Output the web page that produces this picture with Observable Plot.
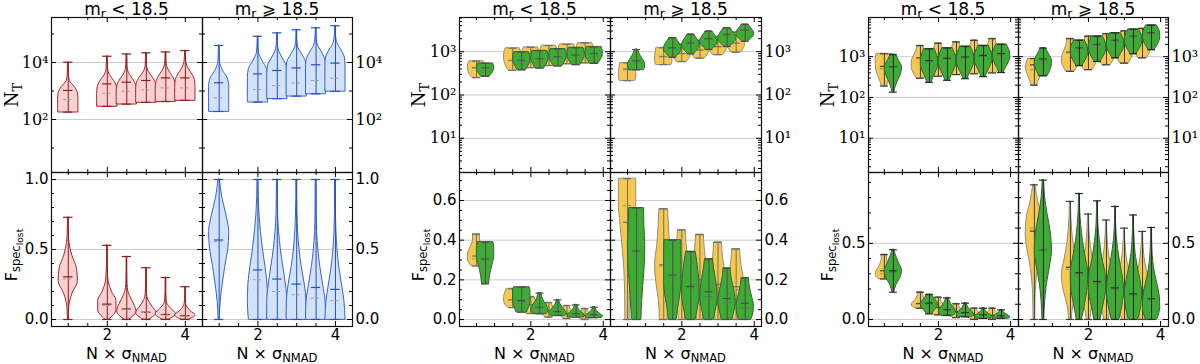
<!DOCTYPE html>
<html><head><meta charset="utf-8">
<script src="https://cdn.jsdelivr.net/npm/d3@7"></script>
<script src="https://cdn.jsdelivr.net/npm/@observablehq/plot@0.6"></script>
<style>
html,body{margin:0;padding:0;background:#fff;}
#root{position:relative;width:1200px;height:364px;overflow:hidden;font-family:"DejaVu Sans",sans-serif;}
.p{position:absolute;}
.p svg{max-width:none !important;}
.t{position:absolute;font-size:16px;white-space:nowrap;color:#000;transform:translate(-50%,-50%);line-height:1;}
.title{font-size:17px;}
.rot{transform:translate(-50%,-50%) rotate(-90deg);}
.serif{font-family:"DejaVu Serif",serif;font-size:18px;}
sub{font-size:72%;vertical-align:-0.3em;line-height:0;}
sub sub{font-size:80%;}
</style></head><body>
<div id="root"></div>
<script>
// ---------- tick labels / positions ----------
const xTickLabels = [2, 4];
const g1LogTicks = [1e2, 1e4];
const g23LogTicks = [1e1, 1e2, 1e3];
const g1LinTicks = [0, 0.5, 1.0];
const g2LinTicks = [0, 0.2, 0.4, 0.6];
const g3LinTicks = [0, 0.5];

// ---------- data: [position, min, max, mean, median, body widths (bottom->top)] ----------
// Group 1 (log10 N_T)
const g1TopRed = [
  [1, 2.26, 4.01, 3.02, 2.70, [1,1,1,0.95,0.65,0.15,0.06,0.04,0.02]],
  [2, 2.46, 4.22, 3.25, 2.92, [1,1,1,0.95,0.7,0.25,0.07,0.04,0.02]],
  [2.5, 2.54, 4.30, 3.31, 2.99, [1,1,1,0.92,0.6,0.2,0.06,0.04,0.02]],
  [3, 2.60, 4.34, 3.37, 3.04, [1,1,1,0.95,0.65,0.22,0.06,0.04,0.02]],
  [3.5, 2.63, 4.37, 3.46, 3.11, [1,1,1,0.95,0.7,0.3,0.08,0.04,0.02]],
  [4, 2.67, 4.42, 3.46, 3.11, [1,1,1,0.97,0.75,0.35,0.1,0.04,0.02]]
];
const g1TopBlue = [
  [1, 2.28, 4.60, 3.29, 2.76, [1,1,1,1,0.85,0.35,0.08,0.04,0.02]],
  [2, 2.61, 4.92, 3.60, 3.05, [1,1,1,1,0.9,0.45,0.1,0.04,0.02]],
  [2.5, 2.73, 5.04, 3.72, 3.19, [1,1,1,1,0.92,0.5,0.12,0.04,0.02]],
  [3, 2.82, 5.15, 3.81, 3.28, [1,1,1,1,0.95,0.55,0.12,0.04,0.02]],
  [3.5, 2.90, 5.22, 3.92, 3.37, [1,1,1,1,0.95,0.6,0.15,0.05,0.02]],
  [4, 2.99, 5.29, 3.98, 3.45, [1,1,1,1,0.95,0.6,0.15,0.05,0.02]]
];
// Group 1 (F_spec_lost)
const g1BotRed = [
  [1, 0, 0.73, 0.305, 0.29, [0.03,0.1,0.4,0.95,0.85,0.4,0.12,0.05,0.02]],
  [2, 0, 0.53, 0.11, 0.10, [0.2,0.9,0.9,0.45,0.15,0.06,0.03,0.02,0.02]],
  [2.5, 0, 0.45, 0.075, 0.07, [0.25,0.95,0.7,0.3,0.08,0.04,0.02,0.02,0.02]],
  [3, 0, 0.37, 0.052, 0.05, [0.3,1,0.6,0.2,0.06,0.03,0.02,0.02,0.02]],
  [3.5, 0, 0.30, 0.036, 0.033, [0.35,1,0.55,0.15,0.05,0.03,0.02,0.02,0.02]],
  [4, 0, 0.234, 0.027, 0.025, [0.4,1,0.55,0.2,0.06,0.03,0.02,0.02,0.02]]
];
const g1BotBlue = [
  [1, 0, 1.0, 0.568, 0.557, [0.05,0.15,0.35,0.6,0.9,1.0,0.7,0.3,0.08]],
  [2, 0, 1.0, 0.354, 0.284, [0.9,1,0.95,0.75,0.5,0.3,0.15,0.07,0.04]],
  [2.5, 0, 1.0, 0.289, 0.20, [1,1,0.85,0.6,0.35,0.18,0.08,0.05,0.04]],
  [3, 0, 1.0, 0.253, 0.177, [1,0.98,0.8,0.5,0.28,0.14,0.07,0.04,0.04]],
  [3.5, 0, 1.0, 0.229, 0.153, [1,0.95,0.7,0.42,0.22,0.1,0.06,0.04,0.04]],
  [4, 0, 1.0, 0.215, 0.134, [1,0.9,0.65,0.38,0.2,0.1,0.05,0.04,0.04]]
];
// Group 2 (log10 N_T)
const g2TopLeftYellow = [
  [0.5, 2.40, 2.78, 2.63, 2.62, [0.5,0.75,0.9,1,1,0.95,0.8]],
  [1.5, 2.57, 3.08, 2.80, 2.79, [0.5,0.75,0.9,1,1,0.95,0.8]],
  [2, 2.63, 3.10, 2.86, 2.85, [0.5,0.75,0.9,1,1,0.95,0.8]],
  [2.5, 2.68, 3.14, 2.90, 2.89, [0.5,0.75,0.9,1,1,0.95,0.8]],
  [3, 2.72, 3.17, 2.94, 2.93, [0.5,0.75,0.9,1,1,0.95,0.8]],
  [3.5, 2.74, 3.20, 2.97, 2.96, [0.5,0.75,0.9,1,1,0.95,0.8]]
];
const g2TopLeftGreen = [
  [0.75, 2.43, 2.73, 2.63, 2.62, [0.5,0.7,0.88,0.98,1,0.95,0.85]],
  [1.75, 2.58, 2.99, 2.80, 2.79, [0.5,0.7,0.88,0.98,1,0.95,0.85]],
  [2.25, 2.62, 3.02, 2.84, 2.83, [0.5,0.7,0.88,0.98,1,0.95,0.85]],
  [2.75, 2.67, 3.06, 2.88, 2.87, [0.5,0.7,0.88,0.98,1,0.95,0.85]],
  [3.25, 2.70, 3.09, 2.92, 2.91, [0.5,0.7,0.88,0.98,1,0.95,0.85]],
  [3.75, 2.73, 3.11, 2.96, 2.95, [0.5,0.7,0.88,0.98,1,0.95,0.85]]
];
const g2TopRightYellow = [
  [0.5, 2.33, 2.74, 2.60, 2.58, [0.9,1,1,1,0.95,0.9,0.85]],
  [1.5, 2.70, 3.09, 2.89, 2.88, [0.9,1,1,1,0.95,0.9,0.85]],
  [2, 2.77, 3.17, 2.96, 2.95, [0.6,0.85,1,1,0.95,0.85,0.7]],
  [2.5, 2.85, 3.26, 3.04, 3.03, [0.6,0.85,1,1,0.95,0.85,0.7]],
  [3, 2.93, 3.35, 3.12, 3.11, [0.6,0.85,1,1,0.95,0.85,0.7]],
  [3.5, 2.99, 3.45, 3.20, 3.19, [0.6,0.85,1,1,0.95,0.85,0.7]]
];
const g2TopRightGreen = [
  [0.75, 2.58, 3.05, 2.79, 2.78, [0.85,1,0.95,0.75,0.5,0.3,0.15]],
  [1.75, 2.87, 3.32, 3.09, 3.08, [0.35,0.7,1,1,0.85,0.6,0.35]],
  [2.25, 2.95, 3.40, 3.20, 3.19, [0.35,0.7,1,1,0.85,0.6,0.35]],
  [2.75, 3.05, 3.47, 3.30, 3.29, [0.35,0.7,1,1,0.85,0.6,0.35]],
  [3.25, 3.12, 3.55, 3.40, 3.39, [0.35,0.7,1,1,0.85,0.6,0.35]],
  [3.75, 3.24, 3.63, 3.50, 3.49, [0.35,0.7,1,1,0.85,0.6,0.35]]
];
// Group 2 (F_spec_lost)
const g2BotLeftYellow = [
  [0.5, 0.27, 0.43, 0.32, 0.305, [0.6,0.95,1,0.85,0.55,0.4,0.4]],
  [1.5, 0.06, 0.155, 0.10, 0.098, [0.55,0.85,1,1,0.95,0.85,0.7]],
  [2, 0.03, 0.115, 0.075, 0.07, [0.5,0.8,1,0.9,0.7,0.5,0.4]],
  [2.5, 0.012, 0.085, 0.045, 0.042, [0.4,0.75,1,0.85,0.6,0.4,0.3]],
  [3, 0.005, 0.07, 0.03, 0.028, [0.3,0.7,1,0.8,0.55,0.35,0.3]],
  [3.5, 0.0, 0.055, 0.02, 0.018, [0.3,0.8,1,0.7,0.45,0.3,0.25]]
];
const g2BotLeftGreen = [
  [0.75, 0.18, 0.39, 0.305, 0.30, [0.4,0.5,0.65,0.85,1,1,0.9]],
  [1.75, 0.037, 0.163, 0.096, 0.09, [0.6,0.8,0.95,1,1,1,0.9]],
  [2.25, 0.029, 0.133, 0.062, 0.06, [0.8,1,0.9,0.65,0.4,0.25,0.2]],
  [2.75, 0.02, 0.099, 0.04, 0.037, [0.85,1,0.8,0.55,0.35,0.2,0.15]],
  [3.25, 0.012, 0.074, 0.03, 0.028, [0.9,1,0.75,0.5,0.3,0.2,0.15]],
  [3.75, 0.009, 0.062, 0.025, 0.022, [0.9,1,0.75,0.5,0.3,0.2,0.15]]
];
const g2BotRightYellow = [
  [0.5, 0, 0.71, 0.49, 0.575, [0.25,0.27,0.35,0.55,0.8,1,1]],
  [1.5, 0, 0.557, 0.276, 0.27, [0.45,0.55,0.85,1,0.75,0.6,0.5]],
  [2, 0, 0.451, 0.225, 0.22, [0.35,0.5,0.8,1,0.75,0.55,0.45]],
  [2.5, 0, 0.428, 0.20, 0.195, [0.35,0.5,0.8,1,0.75,0.55,0.45]],
  [3, 0, 0.389, 0.178, 0.16, [0.3,0.5,0.8,1,0.75,0.55,0.45]],
  [3.5, 0, 0.355, 0.165, 0.15, [0.3,0.5,0.8,1,0.75,0.55,0.45]]
];
const g2BotRightGreen = [
  [0.75, 0, 0.562, 0.345, 0.345, [0.55,0.65,0.8,0.95,1,0.9,0.85]],
  [1.75, 0, 0.40, 0.224, 0.22, [0.45,0.65,0.9,1,1,1,0.95]],
  [2.25, 0, 0.342, 0.167, 0.16, [0.55,0.8,1,1,0.9,0.75,0.55]],
  [2.75, 0, 0.305, 0.14, 0.115, [0.55,0.8,1,0.95,0.8,0.6,0.45]],
  [3.25, 0, 0.258, 0.106, 0.085, [0.6,0.85,1,0.9,0.7,0.5,0.4]],
  [3.75, 0, 0.209, 0.082, 0.06, [0.7,0.95,1,0.85,0.65,0.5,0.4]]
];
// Group 3 (log10 N_T)
const g3TopLeftYellow = [
  [0.5, 2.28, 3.07, 2.76, 2.70, [0.3,0.5,0.75,0.95,1,1,0.9]],
  [1.5, 2.47, 3.27, 2.97, 2.95, [0.45,0.8,1,1,0.8,0.5,0.3]],
  [2, 2.52, 3.33, 3.00, 2.98, [0.45,0.8,1,1,0.8,0.5,0.3]],
  [2.5, 2.56, 3.36, 3.05, 3.03, [0.45,0.8,1,1,0.8,0.5,0.3]],
  [3, 2.58, 3.40, 3.08, 3.06, [0.45,0.8,1,1,0.8,0.5,0.3]],
  [3.5, 2.60, 3.44, 3.12, 3.10, [0.45,0.8,1,1,0.8,0.5,0.3]]
];
const g3TopLeftGreen = [
  [0.75, 2.13, 3.05, 2.75, 2.74, [0.1,0.3,0.6,0.9,1,0.65,0.3]],
  [1.75, 2.37, 3.19, 2.90, 2.88, [0.25,0.5,0.8,1,1,0.85,0.6]],
  [2.25, 2.42, 3.21, 2.96, 2.94, [0.25,0.5,0.8,1,1,0.85,0.6]],
  [2.75, 2.46, 3.25, 2.99, 2.97, [0.25,0.5,0.8,1,1,0.85,0.6]],
  [3.25, 2.51, 3.27, 3.03, 3.01, [0.25,0.5,0.8,1,1,0.85,0.6]],
  [3.75, 2.61, 3.30, 3.07, 3.05, [0.25,0.5,0.8,1,1,0.85,0.6]]
];
const g3TopRightYellow = [
  [0.5, 2.30, 2.95, 2.80, 2.68, [0.3,0.5,0.7,0.9,1,0.9,0.7]],
  [1.5, 2.64, 3.44, 3.11, 3.09, [0.5,0.85,1,0.9,0.65,0.45,0.35]],
  [2, 2.68, 3.50, 3.20, 3.18, [0.5,0.85,1,0.9,0.65,0.45,0.35]],
  [2.5, 2.80, 3.56, 3.28, 3.26, [0.5,0.85,1,0.9,0.65,0.45,0.35]],
  [3, 2.84, 3.63, 3.35, 3.33, [0.5,0.85,1,0.9,0.65,0.45,0.35]],
  [3.5, 2.97, 3.69, 3.45, 3.43, [0.5,0.85,1,0.9,0.65,0.45,0.35]]
];
const g3TopRightGreen = [
  [0.75, 2.53, 3.21, 2.94, 2.92, [0.5,0.75,0.95,1,0.85,0.55,0.25]],
  [1.75, 2.78, 3.40, 3.21, 3.20, [0.35,0.65,0.9,1,1,0.85,0.6]],
  [2.25, 2.88, 3.50, 3.30, 3.29, [0.35,0.65,0.9,1,1,0.85,0.6]],
  [2.75, 2.97, 3.58, 3.40, 3.39, [0.35,0.65,0.9,1,1,0.85,0.6]],
  [3.25, 3.07, 3.67, 3.50, 3.49, [0.35,0.65,0.9,1,1,0.85,0.6]],
  [3.75, 3.17, 3.77, 3.58, 3.57, [0.35,0.65,0.9,1,1,0.85,0.6]]
];
// Group 3 (F_spec_lost)
const g3BotLeftYellow = [
  [0.5, 0.266, 0.426, 0.32, 0.30, [0.7,1,0.9,0.6,0.4,0.3,0.3]],
  [1.5, 0.074, 0.179, 0.105, 0.10, [0.6,1,0.9,0.6,0.4,0.3,0.3]],
  [2, 0.03, 0.146, 0.08, 0.075, [0.5,0.9,1,0.7,0.45,0.3,0.3]],
  [2.5, 0.012, 0.103, 0.05, 0.045, [0.4,0.8,1,0.7,0.45,0.3,0.25]],
  [3, 0.0, 0.074, 0.03, 0.028, [0.3,0.8,1,0.7,0.45,0.3,0.25]],
  [3.5, 0.0, 0.074, 0.028, 0.025, [0.3,0.8,1,0.7,0.45,0.3,0.25]]
];
const g3BotLeftGreen = [
  [0.75, 0.179, 0.458, 0.32, 0.31, [0.1,0.35,0.8,1,0.7,0.35,0.1]],
  [1.75, 0.037, 0.164, 0.107, 0.10, [0.3,0.6,0.9,1,0.8,0.5,0.3]],
  [2.25, 0.026, 0.142, 0.063, 0.06, [0.7,1,0.9,0.65,0.4,0.25,0.15]],
  [2.75, 0.017, 0.107, 0.045, 0.04, [0.8,1,0.85,0.6,0.35,0.2,0.15]],
  [3.25, 0.007, 0.074, 0.03, 0.027, [0.9,1,0.8,0.55,0.3,0.2,0.15]],
  [3.75, 0.007, 0.063, 0.025, 0.022, [0.9,1,0.8,0.55,0.3,0.2,0.15]]
];
const g3BotRightYellow = [
  [0.5, 0, 0.884, 0.58, 0.60, [0.1,0.12,0.2,0.4,0.75,1,0.9,0.45,0.12]],
  [1.5, 0, 0.775, 0.343, 0.33, [0.15,0.35,0.8,1,0.7,0.4,0.2,0.1,0.05]],
  [2, 0, 0.692, 0.273, 0.26, [0.2,0.45,0.85,1,0.7,0.4,0.2,0.1,0.05]],
  [2.5, 0, 0.653, 0.24, 0.23, [0.25,0.55,0.9,1,0.65,0.35,0.18,0.08,0.05]],
  [3, 0, 0.60, 0.19, 0.18, [0.3,0.6,0.95,1,0.65,0.35,0.18,0.08,0.05]],
  [3.5, 0, 0.578, 0.19, 0.17, [0.3,0.6,0.95,1,0.65,0.35,0.18,0.08,0.05]]
];
const g3BotRightGreen = [
  [0.75, 0, 0.915, 0.458, 0.46, [0.1,0.2,0.4,0.75,1,0.85,0.5,0.2,0.08]],
  [1.75, 0, 0.827, 0.306, 0.30, [0.3,0.65,0.95,1,0.7,0.4,0.2,0.08,0.05]],
  [2.25, 0, 0.779, 0.249, 0.24, [0.35,0.7,1,0.95,0.6,0.35,0.15,0.07,0.05]],
  [2.75, 0, 0.742, 0.207, 0.20, [0.45,0.8,1,0.85,0.55,0.3,0.13,0.06,0.05]],
  [3.25, 0, 0.686, 0.168, 0.16, [0.55,0.9,1,0.8,0.5,0.25,0.12,0.06,0.05]],
  [3.75, 0, 0.604, 0.135, 0.13, [0.65,1,0.95,0.7,0.4,0.2,0.1,0.06,0.05]]
];

// ---------- styles ----------
const RED = {fill: "#f8d2d2", stroke: "#a3282b", line: "#8e1b1b", med: "#9a9a9a", hw: 0.26, cw: 0.12};
const BLUE = {fill: "#d2e2f9", stroke: "#3563cf", line: "#2450c0", med: "#9a9a9a", hw: 0.26, cw: 0.12};
const YEL2 = {fill: "#f6c94c", stroke: "#8d8d8d", line: "#6e6e6e", med: "#8a8a8a", hw: 0.24, cw: 0.11};
const GRN2 = {fill: "#3dab34", stroke: "#3c5e3a", line: "#4d4d4d", med: "#6a6a6a", hw: 0.24, cw: 0.11};
const YEL3 = {fill: "#f6c94c", stroke: "#8d8d8d", line: "#3d3d3d", med: "#8a8a8a", hw: 0.24, cw: 0.11};
const GRN3 = {fill: "#3dab34", stroke: "#3c5e3a", line: "#2a2a2a", med: "#6a6a6a", hw: 0.24, cw: 0.11};

const sup = {0:"⁰",1:"¹",2:"²",3:"³",4:"⁴",5:"⁵"};
const logFmt = v => "10" + sup[Math.round(Math.log10(v))];
const linFmt = v => v.toFixed(1);

function logMinor(dom, allDecades) {
  const out = [];
  for (let e = -1; e <= 6; e++) {
    if (allDecades) { const v = 10 ** e; if (v > dom[0] && v < dom[1]) out.push(v); }
    else for (let k = 2; k <= 9; k++) { const v = k * 10 ** e; if (v > dom[0] && v < dom[1]) out.push(v); }
  }
  return out;
}
function linMinor(dom, step, majors) {
  const out = [];
  for (let v = Math.ceil(dom[0] / step) * step; v <= dom[1] + 1e-9; v += step) {
    const r = Math.round(v * 1000) / 1000;
    if (!majors.some(m => Math.abs(m - r) < 1e-6)) out.push(r);
  }
  return out;
}

function violinMarks(marks, rows, o, isLog) {
  const f = v => isLog ? 10 ** v : v;
  const pts = [];
  rows.forEach(([pos, lo, hi, mean, med, w], k) => {
    w.forEach((wi, i) => {
      const e = lo + (hi - lo) * i / (w.length - 1);
      pts.push({k, y: f(e), x1: pos - wi * o.hw, x2: pos + wi * o.hw});
    });
  });
  const st = rows.map(([pos, lo, hi, mean, med]) => ({pos, lo: f(lo), hi: f(hi), mean: f(mean), med: f(med)}));
  const cx1 = d => d.pos - o.cw, cx2 = d => d.pos + o.cw;
  marks.push(
    Plot.areaX(pts, {y: "y", x1: "x1", x2: "x2", z: "k", fill: o.fill, fillOpacity: 1, stroke: o.stroke, strokeWidth: 1, curve: "monotone-y"}),
    Plot.ruleX(st, {x: "pos", y1: "lo", y2: "hi", stroke: o.line, strokeWidth: 1}),
    Plot.ruleY(st, {y: "hi", x1: cx1, x2: cx2, stroke: o.line, strokeWidth: 1.2}),
    Plot.ruleY(st, {y: "lo", x1: cx1, x2: cx2, stroke: o.line, strokeWidth: 1.2}),
    Plot.ruleY(st, {y: "mean", x1: cx1, x2: cx2, stroke: o.line, strokeWidth: 1.2}),
    Plot.ruleY(st, {y: "med", x1: cx1, x2: cx2, stroke: o.med, strokeWidth: 1, strokeDasharray: "3,2"})
  );
}

const ML = 50, MR = 50, MT = 6, MB = 28;
function panel(c) {
  const {left, top, w, h, xDomain, isLog, yDomain, ySide, yMajor, yMinor, yFmt, xLabels, layers} = c;
  const marks = [];
  marks.push(Plot.ruleY(yMajor, {stroke: "#cccccc", strokeWidth: 1}));
  layers.forEach(([rows, o]) => violinMarks(marks, rows, o, isLog));
  const xMinor = linMinor(xDomain, 0.5, xTickLabels);
  const T = 5, t = 3;
  marks.push(
    Plot.ruleX(xTickLabels, {insetTop: h - T, stroke: "#000"}),
    Plot.ruleX(xTickLabels, {insetBottom: h - T, stroke: "#000"}),
    Plot.ruleX(xMinor, {insetTop: h - t, stroke: "#000"}),
    Plot.ruleX(xMinor, {insetBottom: h - t, stroke: "#000"}),
    Plot.ruleY(yMajor, {insetRight: w - T, stroke: "#000"}),
    Plot.ruleY(yMajor, {insetLeft: w - T, stroke: "#000"}),
    Plot.ruleY(yMinor, {insetRight: w - t, stroke: "#000"}),
    Plot.ruleY(yMinor, {insetLeft: w - t, stroke: "#000"}),
    Plot.frame({stroke: "#111", strokeWidth: 1.2})
  );
  if (ySide) marks.push(Plot.axisY(yMajor, {anchor: ySide, tickSize: 0, tickPadding: 3, tickFormat: yFmt, label: null,
    fontSize: isLog ? 16 : 15, fontFamily: isLog ? '"DejaVu Serif", serif' : '"DejaVu Sans", sans-serif', fill: "#000"}));
  if (xLabels) marks.push(Plot.axisX(xTickLabels, {anchor: "bottom", tickSize: 0, tickPadding: 3, label: null, fontSize: 15, fill: "#000"}));
  const svg = Plot.plot({
    width: w + ML + MR, height: h + MT + MB,
    marginLeft: ML, marginRight: MR, marginTop: MT, marginBottom: MB,
    style: {background: "transparent", overflow: "visible", maxWidth: "none", fontFamily: '"DejaVu Sans", sans-serif', fontSize: "15px"},
    x: {domain: xDomain, axis: null},
    y: {type: isLog ? "log" : "linear", domain: yDomain, axis: null},
    marks
  });
  const d = document.createElement("div");
  d.className = "p";
  d.style.left = (left - ML) + "px";
  d.style.top = (top - MT) + "px";
  d.style.width = (w + ML + MR) + "px";
  d.style.height = (h + MT + MB) + "px";
  d.appendChild(svg);
  root.appendChild(d);
}

const root = document.getElementById("root");
const TOP = 17, MID = 172, BOT = 326;
const groups = [
  {xs: [51, 202, 352], xDomain: [0.57, 4.44], logDom: [10 ** 0.14, 10 ** 5.58], logMaj: g1LogTicks, logMin: logMinor([10 ** 0.14, 10 ** 5.58], true),
   linDom: [-0.05, 1.05], linMaj: g1LinTicks, linStep: 0.1,
   tl: [[g1TopRed, RED]], tr: [[g1TopBlue, BLUE]], bl: [[g1BotRed, RED]], br: [[g1BotBlue, BLUE]], fmt: linFmt},
  {xs: [459, 610, 761], xDomain: [0.03, 4.2], logDom: [10 ** 0.21, 10 ** 3.79], logMaj: g23LogTicks, logMin: logMinor([10 ** 0.21, 10 ** 3.79], false),
   linDom: [-0.035, 0.741], linMaj: g2LinTicks, linStep: 0.05,
   tl: [[g2TopLeftYellow, YEL2], [g2TopLeftGreen, GRN2]], tr: [[g2TopRightYellow, YEL2], [g2TopRightGreen, GRN2]],
   bl: [[g2BotLeftYellow, YEL2], [g2BotLeftGreen, GRN2]], br: [[g2BotRightYellow, YEL2], [g2BotRightGreen, GRN2]], fmt: linFmt},
  {xs: [868, 1018, 1168], xDomain: [0.06, 4.22], logDom: [10 ** 0.16, 10 ** 3.96], logMaj: g23LogTicks, logMin: logMinor([10 ** 0.16, 10 ** 3.96], false),
   linDom: [-0.046, 0.965], linMaj: g3LinTicks, linStep: 0.1,
   tl: [[g3TopLeftYellow, YEL3], [g3TopLeftGreen, GRN3]], tr: [[g3TopRightYellow, YEL3], [g3TopRightGreen, GRN3]],
   bl: [[g3BotLeftYellow, YEL3], [g3BotLeftGreen, GRN3]], br: [[g3BotRightYellow, YEL3], [g3BotRightGreen, GRN3]], fmt: linFmt}
];

groups.forEach(g => {
  const [a, b, c] = g.xs;
  const linMin = linMinor(g.linDom, g.linStep, g.linMaj);
  [[a, b, "left", g.tl, g.bl], [b, c, "right", g.tr, g.br]].forEach(([x0, x1, side, topL, botL]) => {
    panel({left: x0, top: TOP, w: x1 - x0, h: MID - TOP, xDomain: g.xDomain, isLog: true, yDomain: g.logDom,
      ySide: side, yMajor: g.logMaj, yMinor: g.logMin, yFmt: logFmt, xLabels: false, layers: topL});
    panel({left: x0, top: MID, w: x1 - x0, h: BOT - MID, xDomain: g.xDomain, isLog: false, yDomain: g.linDom,
      ySide: side, yMajor: g.linMaj, yMinor: linMin, yFmt: g.fmt, xLabels: true, layers: botL});
  });
  // texts
  const addT = (html, x, y, cls) => {
    const e = document.createElement("div");
    e.className = "t" + (cls ? " " + cls : "");
    e.style.left = x + "px"; e.style.top = y + "px";
    e.innerHTML = html;
    root.appendChild(e);
  };
  addT("m<sub>r</sub> &lt; 18.5", (a + b) / 2, 9, "title");
  addT("m<sub>r</sub> ⩾ 18.5", (b + c) / 2, 9, "title");
  addT("N × σ<sub>NMAD</sub>", (a + b) / 2, 354);
  addT("N × σ<sub>NMAD</sub>", (b + c) / 2, 354);
  const lx = a === 51 ? 12 : a - 40;
  addT("N<sub>T</sub>", lx, 95, "rot serif");
  addT("F<sub>spec<sub>lost</sub></sub>", lx, 255, "rot");
});
</script>
</body></html>
